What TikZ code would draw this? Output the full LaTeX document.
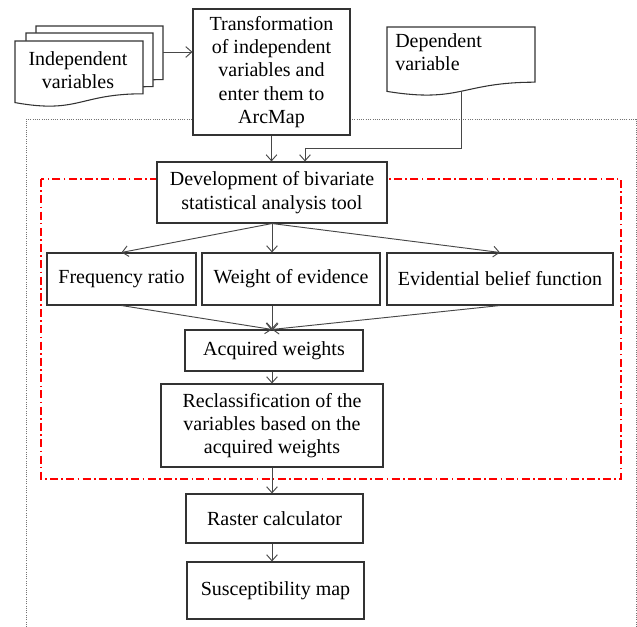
\documentclass[tikz,border=0pt]{standalone}
\usepackage{fontspec}
\setmainfont{Liberation Serif}
\usetikzlibrary{arrows.meta,calc}
\definecolor{frame red}{RGB}{255,0,0}
\begin{document}
\begin{tikzpicture}[x=0.75pt,y=-0.75pt,
 txt/.style={font=\rmfamily\fontsize{15}{17.5}\selectfont,inner sep=0pt},
 box/.style={txt,draw=black!80,fill=white,line width=0.8pt,align=center},
 arr/.style={draw=black!72,line width=0.7pt,-{Straight Barb[length=4.5pt,width=8pt]}},
 ln/.style={draw=black!72,line width=0.7pt},
 doc/.style={draw=black!80,fill=white,line width=0.8pt}]
\useasboundingbox (0,0) rectangle (637,627);
% outer dotted frame (open at bottom)
\draw[black!55,densely dotted,line width=0.7pt] (26,627) -- (26,119) -- (636,119) -- (636,627);
% red dash-dot frame
\draw[draw=frame red,line width=0.8pt,dash pattern=on 6pt off 2.5pt on 1.2pt off 2.5pt] (41,179) rectangle (621,479);
% stacked documents: independent variables
\draw[doc] (36,26) -- (163,26) -- (163,79.6) .. controls (99.5,79.6) and (99.5,100.2) .. (36,88.6) -- cycle;
\draw[doc] (26,33) -- (153,33) -- (153,86.6) .. controls (89.5,86.6) and (89.5,107.2) .. (26,95.6) -- cycle;
\draw[doc] (15,41) -- (143,41) -- (143,93.8) .. controls (79,93.8) and (79,114.1) .. (15,102.6) -- cycle;
\node[txt,align=center] (indep) at (78,70) {Independent\\variables};
% dependent variable document
\draw[doc] (387,27) -- (535,27) -- (535,82.2) .. controls (461,82.2) and (461,103.4) .. (387,91.4) -- cycle;
\node[txt,align=left,anchor=north west] (dep) at (395,33) {Dependent\\variable};
\coordinate (depb) at (461,91.3);
\coordinate (indr) at (163,52);
% boxes
\node[box,minimum width=157*0.75pt,minimum height=126*0.75pt] (trans) at (271.5,72)
  {Transformation\\of independent\\variables and\\enter them to\\ArcMap};
\node[box,minimum width=230*0.75pt,minimum height=61*0.75pt] (dev) at (272,192.5)
  {Development of bivariate\\statistical analysis tool};
\node[box,minimum width=149*0.75pt,minimum height=52*0.75pt] (fr) at (121.5,279) {Frequency ratio};
\node[box,minimum width=178*0.75pt,minimum height=52*0.75pt] (woe) at (291,279) {Weight of evidence};
\node[box,minimum width=226*0.75pt,minimum height=52*0.75pt] (ebf) at (500,279) {Evidential belief function};
\node[box,minimum width=178*0.75pt,minimum height=41*0.75pt] (acq) at (274,350.5) {Acquired weights};
\node[box,minimum width=222*0.75pt,minimum height=83*0.75pt] (recl) at (272,425.5)
  {Reclassification of the\\variables based on the\\acquired weights};
\node[box,minimum width=177*0.75pt,minimum height=49*0.75pt] (rast) at (274.5,518.5) {Raster calculator};
\node[box,minimum width=177*0.75pt,minimum height=57*0.75pt] (susc) at (275.5,590.5) {Susceptibility map};
% connectors
\coordinate (acqin) at (dev.south |- acq.north);
\draw[arr] (indr) -- (indr -| trans.west);
\draw[arr] (trans.south) -- (trans.south |- dev.north);
\draw[ln] (depb) -- (461,148) -- (305,148);
\draw[arr] (305,148) -- (305,148 |- dev.north);
\draw[arr] (dev.south) -- (fr.north);
\draw[arr] (dev.south) -- (dev.south |- woe.north);
\draw[arr] (dev.south) -- (ebf.north);
\draw[arr] (fr.south) -- (acqin);
\draw[arr] (acqin |- woe.south) -- (acqin);
\draw[arr] (ebf.south) -- (acqin);
\draw[arr] (acqin |- acq.south) -- (acqin |- recl.north);
\draw[arr] (acqin |- recl.south) -- (acqin |- rast.north);
\draw[arr] (acqin |- rast.south) -- (acqin |- susc.north);
\end{tikzpicture}
\end{document}
